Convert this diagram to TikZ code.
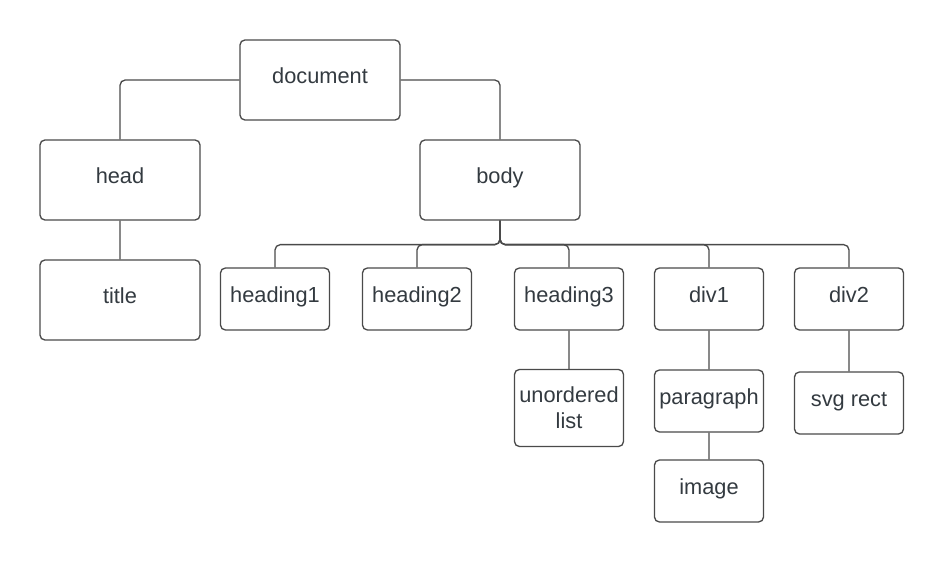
\documentclass[tikz,border=0pt]{standalone}
\usepackage{fontspec}
\setmainfont{Liberation Sans}
\usetikzlibrary{positioning}
\definecolor{edgegray}{HTML}{4A4A4A}
\definecolor{textgray}{HTML}{333A40}

\begin{document}
\begin{tikzpicture}[node distance=2cm,on grid,line width=0.75pt,
  tag/.style={draw=edgegray, rounded corners=2.8pt, minimum width=3.2cm, minimum height=1.6cm,
    inner sep=2pt, align=center, text=textgray, font=\fontsize{12.4}{14.8}\selectfont,
    text height=0.75em, text depth=0.3em},
  leaf/.style={tag, minimum width=2.18cm, minimum height=1.24cm},
  link/.style={draw=edgegray, rounded corners=3pt}]
  \useasboundingbox (0,0) rectangle (18.88,-11.24);

  \node[tag] (doc) at (6.4,-1.6) {document};
  \node[tag] (head) [below left=2cm and 4cm of doc] {head};
  \node[tag] (body) [below right=2cm and 3.6cm of doc] {body};
  \node[tag] (title) [below=2.4cm of head] {title};

  \node[leaf] (heading1) [below left=2.38cm and 4.5cm of body] {heading1};
  \node[leaf] (heading2) [right=2.84cm of heading1] {heading2};
  \node[leaf] (heading3) [right=3.04cm of heading2] {heading3};
  \node[leaf] (div1) [right=2.8cm of heading3] {div1};
  \node[leaf] (div2) [right=2.8cm of div1] {div2};

  \node[leaf, minimum height=1.54cm, text height={}, text depth={}] (list) [below=2.18cm of heading3] {unordered\\list};
  \node[leaf] (paragraph) [below=2.04cm of div1] {paragraph};
  \node[leaf] (image) [below=1.8cm of paragraph] {image};
  \node[leaf] (svg) [below=2.08cm of div2] {svg rect};

  \coordinate (bus) at ([yshift=-0.48cm]body.south);

  \path[link] (doc.west) -| (head.north)
    (doc.east) -| (body.north)
    (head.south) -- (title.north)
    (heading3.south) -- (list.north)
    (div1.south) -- (paragraph.north)
    (paragraph.south) -- (image.north)
    (div2.south) -- (svg.north);
  \foreach \kid in {heading1,heading2,heading3,div1,div2}
    \draw[link] (body.south) -- (bus) -| (\kid.north);
\end{tikzpicture}
\end{document}
